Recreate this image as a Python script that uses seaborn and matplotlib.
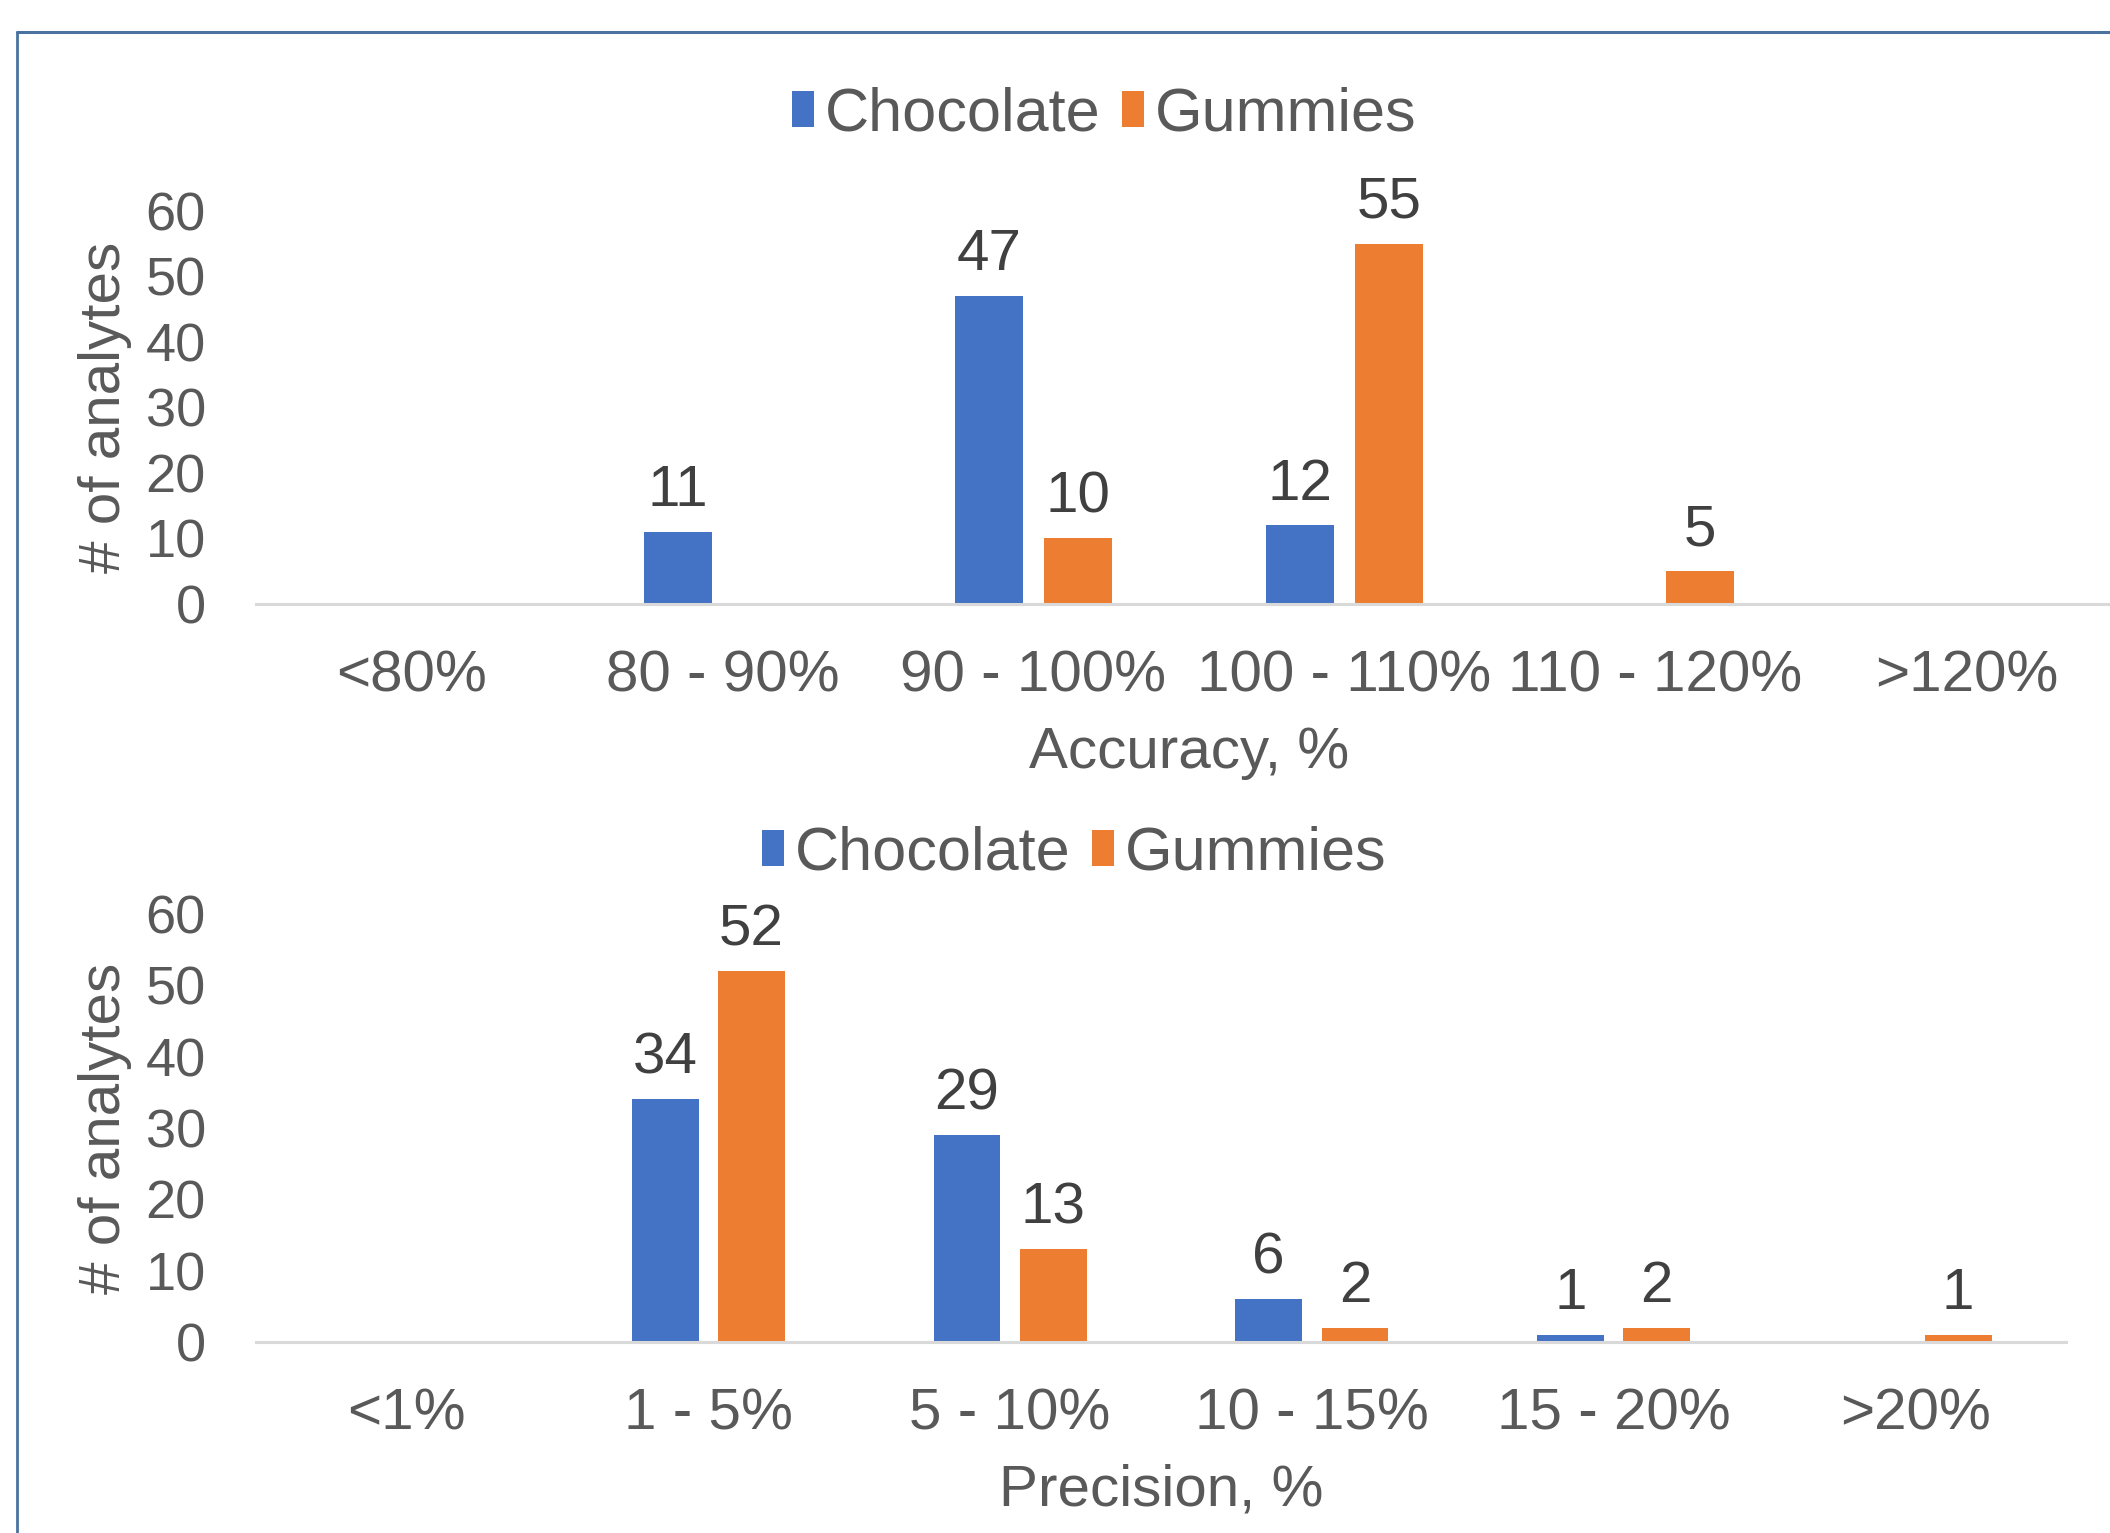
import matplotlib
matplotlib.use("Agg")
import matplotlib.pyplot as plt
from matplotlib.patches import Patch
from matplotlib.lines import Line2D
import pandas as pd
import seaborn as sns

# Accuracy distribution
accuracy_bins = ["<80%", "80 - 90%", "90 - 100%", "100 - 110%", "110 - 120%", ">120%"]
accuracy_chocolate = [0, 11, 47, 12, 0, 0]
accuracy_gummies = [0, 0, 10, 55, 5, 0]

# Precision distribution
precision_bins = ["<1%", "1 - 5%", "5 - 10%", "10 - 15%", "15 - 20%", ">20%"]
precision_chocolate = [0, 34, 29, 6, 1, 0]
precision_gummies = [0, 52, 13, 2, 2, 1]

series_names = ["Chocolate", "Gummies"]
colors = {"Chocolate": "#4472C4", "Gummies": "#ED7D31"}
y_ticks = [0, 10, 20, 30, 40, 50, 60]

sns.set_theme(style="white")
plt.rcParams["font.family"] = ["Liberation Sans", "DejaVu Sans"]

TEXT = "#595959"
LABEL = "#404040"
AXIS = "#D9D9D9"


def long_frame(bins, choc, gum):
    return pd.DataFrame({
        "bin": bins * 2,
        "count": choc + gum,
        "sample": [series_names[0]] * len(bins) + [series_names[1]] * len(bins),
    })


fig = plt.figure(figsize=(21.1, 15.33), dpi=100)

ax_top = fig.add_axes([0.1213, 0.606, 0.8844, 0.2564])
ax_bot = fig.add_axes([0.1213, 0.1246, 0.8578, 0.2792])

panels = [
    (ax_top, long_frame(accuracy_bins, accuracy_chocolate, accuracy_gummies),
     accuracy_bins, "Accuracy, %", -0.379, -0.081, (0.5235, 0.9247)),
    (ax_bot, long_frame(precision_bins, precision_chocolate, precision_gummies),
     precision_bins, "Precision, %", -0.348, -0.0834, (0.5093, 0.4427)),
]

for ax, df, bins, xlabel, xlab_y, ylab_x, leg_pos in panels:
    sns.barplot(data=df, x="bin", y="count", hue="sample", order=bins,
                hue_order=series_names, palette=colors, width=0.572, gap=0.227,
                legend=False, ax=ax, saturation=1, linewidth=0)
    ax.set_ylim(0, 60)
    ax.set_yticks(y_ticks)
    ax.set_xlim(-0.5, len(bins) - 0.5)
    for side in ["top", "right", "left"]:
        ax.spines[side].set_visible(False)
    ax.spines["bottom"].set_color(AXIS)
    ax.spines["bottom"].set_linewidth(2.2)
    ax.tick_params(axis="both", length=0, colors=TEXT)
    ax.tick_params(axis="y", labelsize=39, pad=36)
    ax.tick_params(axis="x", labelsize=42, pad=33)
    ax.grid(False)

    ax.set_xlabel(xlabel, fontsize=42, color=TEXT)
    ax.xaxis.set_label_coords(0.5, xlab_y)
    ax.xaxis.label.set_va("center")
    ax.set_ylabel("# of analytes", fontsize=42, color=TEXT)
    ax.yaxis.set_label_coords(ylab_x, 0.5)
    ax.yaxis.label.set_va("center")

    for container in ax.containers:
        labels = [f"{v:g}" if v > 0 else "" for v in container.datavalues]
        ax.bar_label(container, labels=labels, fontsize=42, color=LABEL, padding=10)

    handles = [Patch(facecolor=colors[s], edgecolor="none", label=s) for s in series_names]
    fig.legend(handles=handles, loc="center", bbox_to_anchor=leg_pos, ncol=2,
               frameon=False, fontsize=44, labelcolor=TEXT,
               handlelength=0.36, handleheight=0.52, handletextpad=0.18,
               columnspacing=0.35, borderaxespad=0)

# Outer frame line (left and top edges)
frame_color = "#4A73A0"
fig.add_artist(Line2D([0.008, 0.008], [0.0, 0.979], color=frame_color,
                      linewidth=2.0, transform=fig.transFigure))
fig.add_artist(Line2D([0.008, 1.0], [0.979, 0.979], color=frame_color,
                      linewidth=2.2, transform=fig.transFigure))

fig.savefig("out.png", dpi=100, facecolor="white")
